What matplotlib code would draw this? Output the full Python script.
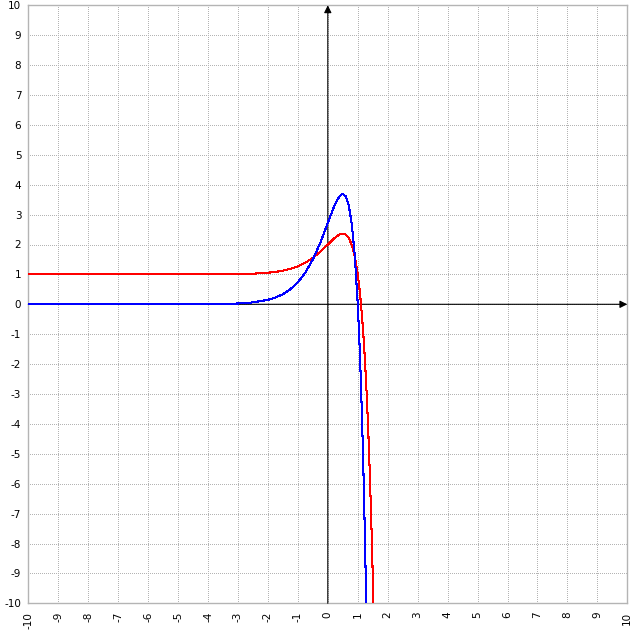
import matplotlib
matplotlib.use("Agg")
import matplotlib.pyplot as plt

# values
red_x = [-10, -6, -4, -3, -2.5, -2, -1.75, -1.5, -1.25, -1, -0.75, -0.5, -0.25,
         0, 0.1, 0.2, 0.3, 0.4, 0.5, 0.6, 0.7, 0.8, 0.9, 1.0, 1.05, 1.1, 1.15,
         1.2, 1.25, 1.3, 1.35, 1.4, 1.45, 1.5, 1.55]
red_y = [1.0, 1.0, 1.0017, 1.0099, 1.0236, 1.0550, 1.0830, 1.1245, 1.1847,
         1.2707, 1.3905, 1.5518, 1.7582, 2.0, 2.0993, 2.1935, 2.2755, 2.3353,
         2.3591, 2.3281, 2.2166, 1.9906, 1.6050, 1.0, 0.5917, 0.0975, -0.4961,
         -1.2046, -2.0456, -3.0391, -4.2079, -5.5779, -7.1784, -9.0428, -11.2089]

blue_x = [-10, -6, -4, -3, -2.5, -2, -1.75, -1.5, -1.25, -1, -0.75, -0.5, -0.25,
          0, 0.1, 0.2, 0.3, 0.4, 0.5, 0.6, 0.7, 0.8, 0.9, 1.0, 1.05, 1.1, 1.15,
          1.2, 1.25, 1.3]
blue_y = [0.0, 0.0001, 0.0046, 0.0269, 0.0641, 0.1494, 0.2257, 0.3383, 0.5020,
          0.7358, 1.0614, 1.5000, 2.0609, 2.7183, 2.9881, 3.2442, 3.4671, 3.6298,
          3.6945, 3.6100, 3.3069, 2.6928, 1.6445, 0.0, -1.1099, -2.4533, -4.0669,
          -5.9928, -8.2789, -10.9795]

ticks = list(range(-10, 11))
tick_labels = [str(t) for t in ticks]

fig = plt.figure(figsize=(6.33, 6.33), dpi=100)
ax = fig.add_axes([28.3 / 633, 29.7 / 633, 599 / 633, 598 / 633])
ax.set_xlim(-10, 10)
ax.set_ylim(-10, 10)

grey = "#b4b4b4"
px = 0.72  # one pixel in points
for t in ticks[1:-1]:
    ax.axvline(t, color=grey, lw=px, ls=(0, (1, 2)), zorder=1, antialiased=False)
    ax.axhline(t, color=grey, lw=px, ls=(0, (1, 2)), zorder=1, antialiased=False)

for s in ax.spines.values():
    s.set_color(grey)
    s.set_linewidth(1)

# axes with arrows
ax.annotate("", xy=(10, 0), xytext=(-10, 0),
            arrowprops=dict(arrowstyle="-|>", color="black", lw=0.8,
                            mutation_scale=11, shrinkA=0, shrinkB=0),
            annotation_clip=False, zorder=3)
ax.annotate("", xy=(0, 10), xytext=(0, -10),
            arrowprops=dict(arrowstyle="-|>", color="black", lw=0.8,
                            mutation_scale=11, shrinkA=0, shrinkB=0),
            annotation_clip=False, zorder=3)

ax.plot(red_x, red_y, color="#ff0000", lw=0.75, zorder=4, antialiased=False)
ax.plot(blue_x, blue_y, color="#0000ff", lw=0.75, zorder=4, antialiased=False)

ax.set_xticks(ticks)
ax.set_xticklabels(tick_labels, rotation=90, fontsize=7.5)
ax.set_yticks(ticks)
ax.set_yticklabels(tick_labels, fontsize=7.5)
ax.tick_params(axis="both", length=0)
ax.tick_params(axis="x", pad=6)
ax.tick_params(axis="y", pad=5)

fig.savefig("out.png", dpi=100)
